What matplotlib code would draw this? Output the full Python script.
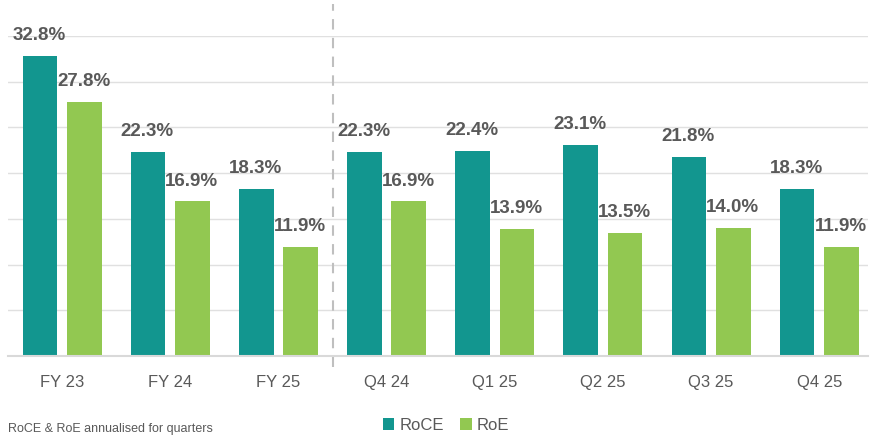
import matplotlib
matplotlib.use("Agg")
import matplotlib.pyplot as plt
import matplotlib.transforms as mtransforms
import numpy as np

plt.rcParams['font.family'] = ['Liberation Sans', 'DejaVu Sans']

categories = ["FY 23", "FY 24", "FY 25", "Q4 24", "Q1 25", "Q2 25", "Q3 25", "Q4 25"]
roce = [32.8, 22.3, 18.3, 22.3, 22.4, 23.1, 21.8, 18.3]
roe = [27.8, 16.9, 11.9, 16.9, 13.9, 13.5, 14.0, 11.9]
series_names = ["RoCE", "RoE"]
footnote = "RoCE & RoE annualised for quarters"

teal = "#12968F"
green = "#92C851"
label_color = "#595959"
tick_color = "#595959"

fig = plt.figure(figsize=(8.71, 4.37), dpi=100)
ax = fig.add_axes([8/871, 81/437, 860/871, 320/437])

x = np.arange(len(categories))
w = 0.32
off = 0.205
b1 = ax.bar(x - off, roce, w, color=teal, label=series_names[0], zorder=3)
b2 = ax.bar(x + off, roe, w, color=green, label=series_names[1], zorder=3)

for bars, vals in ((b1, roce), (b2, roe)):
    for r, v in zip(bars, vals):
        ax.annotate(f"{v:.1f}%", (r.get_x() + r.get_width()/2, v),
                    xytext=(-0.5, 8.5), textcoords="offset points",
                    ha="center", va="bottom", fontsize=13.5, fontweight="bold",
                    color=label_color, zorder=4)

ax.set_ylim(0, 35)
ax.set_xlim(-0.5, 7.45)
ax.set_yticks(np.arange(0, 36, 5))
ax.yaxis.grid(True, color="#E0E0E0", linewidth=1, zorder=0)
ax.tick_params(axis="y", left=False, labelleft=False)
ax.tick_params(axis="x", length=0, pad=14, labelsize=12, labelcolor=tick_color)
ax.set_xticks(x)
ax.set_xticklabels(categories)
for s in ("top", "right", "left"):
    ax.spines[s].set_visible(False)
ax.spines["bottom"].set_color("#D9D9D9")
ax.spines["bottom"].set_linewidth(1.5)
ax.spines["bottom"].set_zorder(4)

trans = mtransforms.blended_transform_factory(ax.transData, ax.transAxes)
ax.plot([2.5, 2.5], [-0.035, 1.1], transform=trans, color="#BFBFBF",
        linewidth=1.5, linestyle=(0, (5, 4)), clip_on=False, zorder=2)

ax.legend(loc="center", bbox_to_anchor=(446/871, 1 - 425/437),
          bbox_transform=fig.transFigure, ncol=2, frameon=False,
          fontsize=12, handlelength=0.7, handleheight=0.7,
          handletextpad=0.3, columnspacing=1.0, labelcolor=tick_color)

fig.text(8/871, 2/437, footnote, ha="left", va="bottom", fontsize=9,
         color=tick_color)

fig.savefig("out.png", dpi=100)
